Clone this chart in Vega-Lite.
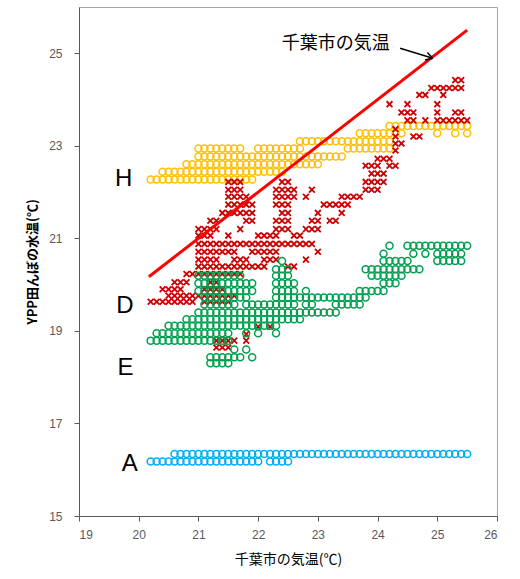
{
"$schema":"https://vega.github.io/schema/vega-lite/v6.json",
"width":418,"height":509,
"autosize":{"type":"none"},
"padding":{"left":79,"top":7,"right":23,"bottom":63},
"config":{"view":{"stroke":"#a6a6a6","strokeWidth":1},"axis":{"grid":false,"labelFont":"Liberation Sans","labelFontSize":12,"labelColor":"#595959","domainColor":"#595959","tickColor":"#595959","titleFont":"Noto Sans CJK JP","titleColor":"#000000"}},
"encoding":{
"x":{"field":"x","type":"quantitative","scale":{"domain":[19,26],"nice":false,"zero":false},"axis":{"values":[19,20,21,22,23,24,25,26],"format":"d","title":"千葉市の気温(℃)","titleFontSize":14,"titleFontWeight":"normal","labelPadding":8,"tickSize":5,"titlePadding":12}},
"y":{"field":"y","type":"quantitative","scale":{"domain":[15,26],"nice":false,"zero":false},"axis":{"values":[15,17,19,21,23,25],"format":"d","title":"YPP田んぼの水温(℃)","titleFontSize":13,"titleFontWeight":"bold","labelPadding":12,"tickSize":5,"titlePadding":9}}
},
"datasets":{
"A":[
{"x":20.6,"y":16.34},{"x":20.7,"y":16.34},{"x":20.8,"y":16.34},{"x":20.9,"y":16.34},{"x":21,"y":16.34},{"x":21.1,"y":16.34},{"x":21.2,"y":16.34},{"x":21.3,"y":16.34},{"x":21.4,"y":16.34},{"x":21.5,"y":16.34},{"x":21.6,"y":16.34},{"x":21.7,"y":16.34},{"x":21.8,"y":16.34},{"x":21.9,"y":16.34},{"x":22,"y":16.34},{"x":22.1,"y":16.34},{"x":22.2,"y":16.34},{"x":22.3,"y":16.34},{"x":22.4,"y":16.34},{"x":22.5,"y":16.34},{"x":22.6,"y":16.34},{"x":22.7,"y":16.34},{"x":22.8,"y":16.34},{"x":22.9,"y":16.34},{"x":23,"y":16.34},{"x":23.1,"y":16.34},{"x":23.2,"y":16.34},{"x":23.3,"y":16.34},{"x":23.4,"y":16.34},{"x":23.5,"y":16.34},{"x":23.6,"y":16.34},{"x":23.7,"y":16.34},{"x":23.8,"y":16.34},{"x":23.9,"y":16.34},{"x":24,"y":16.34},{"x":24.1,"y":16.34},{"x":24.2,"y":16.34},{"x":24.3,"y":16.34},{"x":24.4,"y":16.34},{"x":24.5,"y":16.34},{"x":24.6,"y":16.34},{"x":24.7,"y":16.34},{"x":24.8,"y":16.34},{"x":24.9,"y":16.34},{"x":25,"y":16.34},{"x":25.1,"y":16.34},{"x":25.2,"y":16.34},{"x":25.3,"y":16.34},{"x":25.4,"y":16.34},{"x":25.5,"y":16.34},
{"x":20.2,"y":16.18},{"x":20.3,"y":16.18},{"x":20.4,"y":16.18},{"x":20.5,"y":16.18},{"x":20.6,"y":16.18},{"x":20.7,"y":16.18},{"x":20.8,"y":16.18},{"x":20.9,"y":16.18},{"x":21,"y":16.18},{"x":21.1,"y":16.18},{"x":21.2,"y":16.18},{"x":21.3,"y":16.18},{"x":21.4,"y":16.18},{"x":21.5,"y":16.18},{"x":21.6,"y":16.18},{"x":21.7,"y":16.18},{"x":21.8,"y":16.18},{"x":21.9,"y":16.18},{"x":22,"y":16.18},{"x":22.2,"y":16.18},{"x":22.3,"y":16.18},{"x":22.4,"y":16.18},{"x":22.5,"y":16.18}
],
"H":[
{"x":20.2,"y":22.27},{"x":20.3,"y":22.27},{"x":20.4,"y":22.27},{"x":20.5,"y":22.27},{"x":20.6,"y":22.27},{"x":20.7,"y":22.27},{"x":20.8,"y":22.27},{"x":20.9,"y":22.27},{"x":21,"y":22.27},{"x":21.1,"y":22.27},{"x":21.2,"y":22.27},{"x":21.3,"y":22.27},{"x":21.4,"y":22.27},{"x":21.5,"y":22.27},{"x":21.6,"y":22.27},{"x":21.7,"y":22.27},{"x":21.8,"y":22.27},{"x":21.9,"y":22.27},
{"x":20.4,"y":22.44},{"x":20.5,"y":22.44},{"x":20.6,"y":22.44},{"x":20.7,"y":22.44},{"x":20.8,"y":22.44},{"x":20.9,"y":22.44},{"x":21,"y":22.44},{"x":21.1,"y":22.44},{"x":21.2,"y":22.44},{"x":21.3,"y":22.44},{"x":21.4,"y":22.44},{"x":21.5,"y":22.44},{"x":21.6,"y":22.44},{"x":21.7,"y":22.44},{"x":21.8,"y":22.44},{"x":21.9,"y":22.44},{"x":22,"y":22.44},{"x":22.1,"y":22.44},{"x":22.2,"y":22.44},{"x":22.3,"y":22.44},{"x":22.4,"y":22.44},
{"x":20.8,"y":22.6},{"x":20.9,"y":22.6},{"x":21,"y":22.6},{"x":21.1,"y":22.6},{"x":21.2,"y":22.6},{"x":21.3,"y":22.6},{"x":21.4,"y":22.6},{"x":21.5,"y":22.6},{"x":21.6,"y":22.6},{"x":21.7,"y":22.6},{"x":21.8,"y":22.6},{"x":21.9,"y":22.6},{"x":22,"y":22.6},{"x":22.1,"y":22.6},{"x":22.2,"y":22.6},{"x":22.3,"y":22.6},{"x":22.4,"y":22.6},{"x":22.5,"y":22.6},{"x":22.6,"y":22.6},{"x":22.7,"y":22.6},{"x":22.8,"y":22.6},{"x":22.9,"y":22.6},{"x":23,"y":22.6},
{"x":21,"y":22.77},{"x":21.1,"y":22.77},{"x":21.2,"y":22.77},{"x":21.3,"y":22.77},{"x":21.4,"y":22.77},{"x":21.5,"y":22.77},{"x":21.6,"y":22.77},{"x":21.7,"y":22.77},{"x":21.8,"y":22.77},{"x":21.9,"y":22.77},{"x":22,"y":22.77},{"x":22.1,"y":22.77},{"x":22.2,"y":22.77},{"x":22.3,"y":22.77},{"x":22.4,"y":22.77},{"x":22.5,"y":22.77},{"x":22.6,"y":22.77},{"x":22.7,"y":22.77},{"x":22.8,"y":22.77},{"x":22.9,"y":22.77},{"x":23,"y":22.77},{"x":23.1,"y":22.77},{"x":23.2,"y":22.77},{"x":23.3,"y":22.77},{"x":23.4,"y":22.77},
{"x":21,"y":22.94},{"x":21.1,"y":22.94},{"x":21.2,"y":22.94},{"x":21.3,"y":22.94},{"x":21.4,"y":22.94},{"x":21.5,"y":22.94},{"x":21.6,"y":22.94},{"x":21.7,"y":22.94},{"x":22,"y":22.94},{"x":22.1,"y":22.94},{"x":22.2,"y":22.94},{"x":22.3,"y":22.94},{"x":22.4,"y":22.94},{"x":22.5,"y":22.94},{"x":22.6,"y":22.94},{"x":22.7,"y":22.94},{"x":23.5,"y":22.94},{"x":23.6,"y":22.94},{"x":23.7,"y":22.94},{"x":23.8,"y":22.94},{"x":23.9,"y":22.94},{"x":24,"y":22.94},{"x":24.1,"y":22.94},{"x":24.2,"y":22.94},
{"x":22.7,"y":23.1},{"x":22.8,"y":23.1},{"x":22.9,"y":23.1},{"x":23,"y":23.1},{"x":23.1,"y":23.1},{"x":23.2,"y":23.1},{"x":23.3,"y":23.1},{"x":23.4,"y":23.1},{"x":23.5,"y":23.1},{"x":23.6,"y":23.1},{"x":23.7,"y":23.1},{"x":23.8,"y":23.1},{"x":23.9,"y":23.1},{"x":24,"y":23.1},{"x":24.1,"y":23.1},{"x":24.2,"y":23.1},
{"x":23.7,"y":23.27},{"x":23.8,"y":23.27},{"x":23.9,"y":23.27},{"x":24,"y":23.27},{"x":24.1,"y":23.27},{"x":24.2,"y":23.27},{"x":24.3,"y":23.27},{"x":24.4,"y":23.27},{"x":25,"y":23.27},{"x":25.3,"y":23.27},{"x":25.5,"y":23.27},
{"x":24.2,"y":23.43},{"x":24.3,"y":23.43},{"x":24.4,"y":23.43},{"x":24.5,"y":23.43},{"x":24.6,"y":23.43},{"x":24.7,"y":23.43},{"x":24.8,"y":23.43},{"x":24.9,"y":23.43},{"x":25,"y":23.43},{"x":25.1,"y":23.43},{"x":25.2,"y":23.43},{"x":25.3,"y":23.43},{"x":25.4,"y":23.43},{"x":25.5,"y":23.43}
],
"D":[
{"x":21.3,"y":18.64},{"x":21.4,"y":18.64},{"x":21.5,"y":18.64},
{"x":21.3,"y":18.79},{"x":21.4,"y":18.79},{"x":21.5,"y":18.79},{"x":21.6,"y":18.79},{"x":21.8,"y":18.79},
{"x":21.8,"y":18.93},{"x":22,"y":19.09},{"x":22.2,"y":19.09},
{"x":20.2,"y":19.63},{"x":20.3,"y":19.63},{"x":20.4,"y":19.63},{"x":20.5,"y":19.63},{"x":20.6,"y":19.63},{"x":20.7,"y":19.63},{"x":20.8,"y":19.63},{"x":20.9,"y":19.63},{"x":21.1,"y":19.63},{"x":21.2,"y":19.63},{"x":21.3,"y":19.63},{"x":21.4,"y":19.63},{"x":21.5,"y":19.63},
{"x":20.5,"y":19.76},{"x":20.6,"y":19.76},{"x":20.7,"y":19.76},{"x":20.8,"y":19.76},{"x":20.9,"y":19.76},{"x":21,"y":19.76},{"x":21.1,"y":19.76},{"x":21.2,"y":19.76},{"x":21.3,"y":19.76},{"x":21.4,"y":19.76},{"x":21.5,"y":19.76},{"x":21.6,"y":19.76},
{"x":20.4,"y":19.9},{"x":20.5,"y":19.9},{"x":20.6,"y":19.9},{"x":20.7,"y":19.9},{"x":21.1,"y":19.9},{"x":21.2,"y":19.9},{"x":21.3,"y":19.9},{"x":21.4,"y":19.9},
{"x":20.6,"y":20.05},{"x":20.7,"y":20.05},{"x":20.8,"y":20.05},{"x":21.2,"y":20.05},{"x":21.3,"y":20.05},
{"x":20.8,"y":20.23},{"x":20.9,"y":20.23},{"x":21,"y":20.23},{"x":21.1,"y":20.23},{"x":21.2,"y":20.23},{"x":21.3,"y":20.23},{"x":21.4,"y":20.23},{"x":21.5,"y":20.23},{"x":21.6,"y":20.23},{"x":21.7,"y":20.23},
{"x":21,"y":20.39},{"x":21.1,"y":20.39},{"x":21.2,"y":20.39},{"x":21.3,"y":20.39},{"x":21.4,"y":20.39},{"x":21.5,"y":20.39},{"x":21.6,"y":20.39},{"x":21.7,"y":20.39},{"x":21.8,"y":20.39},{"x":21.9,"y":20.39},{"x":22,"y":20.39},{"x":22.1,"y":20.39},{"x":22.5,"y":20.39},{"x":22.6,"y":20.39},
{"x":21,"y":20.54},{"x":21.1,"y":20.54},{"x":21.2,"y":20.54},{"x":21.3,"y":20.54},{"x":21.6,"y":20.54},{"x":21.7,"y":20.54},{"x":21.8,"y":20.54},{"x":22.1,"y":20.54},{"x":22.2,"y":20.54},{"x":22.3,"y":20.54},{"x":22.8,"y":20.54},
{"x":21,"y":20.71},{"x":21.1,"y":20.71},{"x":21.2,"y":20.71},{"x":21.3,"y":20.71},{"x":21.4,"y":20.71},{"x":21.5,"y":20.71},{"x":21.6,"y":20.71},{"x":21.9,"y":20.71},{"x":22,"y":20.71},{"x":22.1,"y":20.71},{"x":22.2,"y":20.71},{"x":22.3,"y":20.71},{"x":23,"y":20.71},
{"x":21,"y":20.88},{"x":21.1,"y":20.88},{"x":21.2,"y":20.88},{"x":21.3,"y":20.88},{"x":21.4,"y":20.88},{"x":21.5,"y":20.88},{"x":21.6,"y":20.88},{"x":21.7,"y":20.88},{"x":21.8,"y":20.88},{"x":21.9,"y":20.88},{"x":22,"y":20.88},{"x":22.1,"y":20.88},{"x":22.2,"y":20.88},{"x":22.3,"y":20.88},{"x":22.4,"y":20.88},{"x":22.5,"y":20.88},{"x":22.6,"y":20.88},{"x":22.7,"y":20.88},{"x":22.8,"y":20.88},{"x":22.9,"y":20.88},
{"x":21,"y":21.06},{"x":21.1,"y":21.06},{"x":21.2,"y":21.06},{"x":21.5,"y":21.06},{"x":22,"y":21.06},{"x":22.1,"y":21.06},{"x":22.2,"y":21.06},{"x":22.3,"y":21.06},{"x":22.6,"y":21.06},{"x":22.7,"y":21.06},
{"x":21,"y":21.2},{"x":21.1,"y":21.2},{"x":21.2,"y":21.2},{"x":21.3,"y":21.2},{"x":21.7,"y":21.2},{"x":22.3,"y":21.2},{"x":22.4,"y":21.2},{"x":22.5,"y":21.2},{"x":22.8,"y":21.2},{"x":22.9,"y":21.2},{"x":23,"y":21.2},
{"x":21.2,"y":21.38},{"x":21.3,"y":21.38},{"x":21.8,"y":21.38},{"x":21.9,"y":21.38},{"x":22.3,"y":21.38},{"x":22.4,"y":21.38},{"x":22.5,"y":21.38},{"x":22.9,"y":21.38},{"x":23,"y":21.38},{"x":23.2,"y":21.38},{"x":23.3,"y":21.38},
{"x":21.4,"y":21.55},{"x":21.5,"y":21.55},{"x":21.6,"y":21.55},{"x":21.7,"y":21.55},{"x":21.8,"y":21.55},{"x":21.9,"y":21.55},{"x":22.4,"y":21.55},{"x":22.5,"y":21.55},{"x":23,"y":21.55},{"x":23.4,"y":21.55},
{"x":21.5,"y":21.73},{"x":21.6,"y":21.73},{"x":21.7,"y":21.73},{"x":21.8,"y":21.73},{"x":21.9,"y":21.73},{"x":22.3,"y":21.73},{"x":22.4,"y":21.73},{"x":22.5,"y":21.73},{"x":23.1,"y":21.73},{"x":23.2,"y":21.73},{"x":23.3,"y":21.73},{"x":23.4,"y":21.73},{"x":23.5,"y":21.73},
{"x":21.5,"y":21.9},{"x":21.6,"y":21.9},{"x":21.7,"y":21.9},{"x":21.8,"y":21.9},{"x":22.3,"y":21.9},{"x":22.4,"y":21.9},{"x":22.5,"y":21.9},{"x":22.6,"y":21.9},{"x":22.8,"y":21.9},{"x":23.4,"y":21.9},{"x":23.5,"y":21.9},{"x":23.6,"y":21.9},{"x":23.7,"y":21.9},
{"x":21.5,"y":22.05},{"x":21.6,"y":22.05},{"x":21.7,"y":22.05},{"x":22.3,"y":22.05},{"x":22.4,"y":22.05},{"x":22.5,"y":22.05},{"x":22.6,"y":22.05},{"x":22.9,"y":22.05},{"x":23.8,"y":22.05},{"x":23.9,"y":22.05},{"x":24,"y":22.05},
{"x":21.5,"y":22.22},{"x":21.6,"y":22.22},{"x":21.7,"y":22.22},{"x":22.4,"y":22.22},{"x":22.5,"y":22.22},{"x":23.8,"y":22.22},{"x":23.9,"y":22.22},{"x":24,"y":22.22},{"x":24.1,"y":22.22},
{"x":23.9,"y":22.4},{"x":24,"y":22.4},{"x":24.1,"y":22.4},
{"x":23.8,"y":22.57},{"x":23.9,"y":22.57},{"x":24,"y":22.57},{"x":24.2,"y":22.57},{"x":24.3,"y":22.57},
{"x":24,"y":22.72},{"x":24.1,"y":22.72},{"x":24.2,"y":22.72},
{"x":24.3,"y":22.9},{"x":24.3,"y":23.05},{"x":24.4,"y":23.05},
{"x":24.3,"y":23.2},{"x":24.6,"y":23.2},{"x":24.7,"y":23.2},{"x":24.3,"y":23.36},
{"x":24.5,"y":23.55},{"x":24.6,"y":23.55},{"x":24.8,"y":23.55},{"x":25,"y":23.55},{"x":25.1,"y":23.55},{"x":25.2,"y":23.55},{"x":25.3,"y":23.55},{"x":25.4,"y":23.55},{"x":25.5,"y":23.55},
{"x":24.4,"y":23.72},{"x":24.5,"y":23.72},{"x":24.6,"y":23.72},{"x":25,"y":23.72},{"x":25.3,"y":23.72},{"x":25.4,"y":23.72},
{"x":24.2,"y":23.9},{"x":24.5,"y":23.9},{"x":25,"y":23.9},
{"x":24.7,"y":24.1},{"x":24.8,"y":24.1},{"x":25.1,"y":24.1},
{"x":24.9,"y":24.25},{"x":25,"y":24.25},{"x":25.1,"y":24.25},{"x":25.2,"y":24.25},{"x":25.3,"y":24.25},{"x":25.4,"y":24.25},
{"x":25.3,"y":24.42},{"x":25.4,"y":24.42}
],
"E":[
{"x":21.2,"y":18.3},{"x":21.3,"y":18.3},{"x":21.4,"y":18.3},{"x":21.5,"y":18.3},
{"x":21.2,"y":18.43},{"x":21.3,"y":18.43},{"x":21.4,"y":18.43},{"x":21.5,"y":18.43},{"x":21.6,"y":18.43},{"x":21.7,"y":18.43},{"x":21.9,"y":18.43},
{"x":21.6,"y":18.6},{"x":21.8,"y":18.6},
{"x":20.2,"y":18.79},{"x":20.3,"y":18.79},{"x":20.4,"y":18.79},{"x":20.5,"y":18.79},{"x":20.6,"y":18.79},{"x":20.7,"y":18.79},{"x":20.8,"y":18.79},{"x":20.9,"y":18.79},{"x":21,"y":18.79},{"x":21.1,"y":18.79},{"x":21.2,"y":18.79},{"x":21.3,"y":18.79},{"x":21.4,"y":18.79},{"x":21.5,"y":18.79},
{"x":20.3,"y":18.95},{"x":20.4,"y":18.95},{"x":20.5,"y":18.95},{"x":20.6,"y":18.95},{"x":20.7,"y":18.95},{"x":20.8,"y":18.95},{"x":20.9,"y":18.95},{"x":21,"y":18.95},{"x":21.1,"y":18.95},{"x":21.2,"y":18.95},{"x":21.3,"y":18.95},{"x":21.4,"y":18.95},{"x":21.5,"y":18.95},{"x":21.8,"y":18.95},{"x":22,"y":18.95},{"x":22.3,"y":18.95},
{"x":20.5,"y":19.11},{"x":20.6,"y":19.11},{"x":20.7,"y":19.11},{"x":20.8,"y":19.11},{"x":20.9,"y":19.11},{"x":21,"y":19.11},{"x":21.1,"y":19.11},{"x":21.2,"y":19.11},{"x":21.3,"y":19.11},{"x":21.4,"y":19.11},{"x":21.5,"y":19.11},{"x":21.6,"y":19.11},{"x":21.7,"y":19.11},{"x":21.8,"y":19.11},{"x":21.9,"y":19.11},{"x":22,"y":19.11},{"x":22.1,"y":19.11},{"x":22.2,"y":19.11},{"x":22.3,"y":19.11},
{"x":20.8,"y":19.25},{"x":20.9,"y":19.25},{"x":21,"y":19.25},{"x":21.1,"y":19.25},{"x":21.2,"y":19.25},{"x":21.3,"y":19.25},{"x":21.4,"y":19.25},{"x":21.5,"y":19.25},{"x":21.6,"y":19.25},{"x":21.7,"y":19.25},{"x":21.8,"y":19.25},{"x":21.9,"y":19.25},{"x":22,"y":19.25},{"x":22.1,"y":19.25},{"x":22.2,"y":19.25},{"x":22.3,"y":19.25},{"x":22.4,"y":19.25},{"x":22.5,"y":19.25},{"x":22.6,"y":19.25},{"x":22.7,"y":19.25},
{"x":21,"y":19.4},{"x":21.1,"y":19.4},{"x":21.2,"y":19.4},{"x":21.3,"y":19.4},{"x":21.4,"y":19.4},{"x":21.5,"y":19.4},{"x":21.6,"y":19.4},{"x":21.7,"y":19.4},{"x":21.8,"y":19.4},{"x":21.9,"y":19.4},{"x":22,"y":19.4},{"x":22.1,"y":19.4},{"x":22.2,"y":19.4},{"x":22.3,"y":19.4},{"x":22.4,"y":19.4},{"x":22.5,"y":19.4},{"x":22.6,"y":19.4},{"x":22.7,"y":19.4},{"x":22.8,"y":19.4},{"x":22.9,"y":19.4},{"x":23,"y":19.4},{"x":23.1,"y":19.4},{"x":23.2,"y":19.4},{"x":23.3,"y":19.4},
{"x":21.1,"y":19.57},{"x":21.2,"y":19.57},{"x":21.3,"y":19.57},{"x":21.4,"y":19.57},{"x":21.5,"y":19.57},{"x":21.6,"y":19.57},{"x":21.8,"y":19.57},{"x":21.9,"y":19.57},{"x":22,"y":19.57},{"x":22.1,"y":19.57},{"x":22.2,"y":19.57},{"x":22.3,"y":19.57},{"x":22.4,"y":19.57},{"x":22.5,"y":19.57},{"x":22.6,"y":19.57},{"x":22.8,"y":19.57},{"x":22.9,"y":19.57},{"x":23.3,"y":19.57},{"x":23.4,"y":19.57},{"x":23.5,"y":19.57},{"x":23.6,"y":19.57},{"x":23.7,"y":19.57},
{"x":21.1,"y":19.72},{"x":21.2,"y":19.72},{"x":21.3,"y":19.72},{"x":21.4,"y":19.72},{"x":21.5,"y":19.72},{"x":21.6,"y":19.72},{"x":21.7,"y":19.72},{"x":21.8,"y":19.72},{"x":22.3,"y":19.72},{"x":22.4,"y":19.72},{"x":22.5,"y":19.72},{"x":22.6,"y":19.72},{"x":22.7,"y":19.72},{"x":22.8,"y":19.72},{"x":22.9,"y":19.72},{"x":23,"y":19.72},{"x":23.1,"y":19.72},{"x":23.2,"y":19.72},{"x":23.3,"y":19.72},{"x":23.4,"y":19.72},{"x":23.5,"y":19.72},{"x":23.6,"y":19.72},{"x":23.7,"y":19.72},{"x":23.8,"y":19.72},
{"x":21,"y":19.86},{"x":21.1,"y":19.86},{"x":21.2,"y":19.86},{"x":21.3,"y":19.86},{"x":21.4,"y":19.86},{"x":21.5,"y":19.86},{"x":21.6,"y":19.86},{"x":21.7,"y":19.86},{"x":21.8,"y":19.86},{"x":21.9,"y":19.86},{"x":22.3,"y":19.86},{"x":22.4,"y":19.86},{"x":22.5,"y":19.86},{"x":22.6,"y":19.86},{"x":22.8,"y":19.86},{"x":23.7,"y":19.86},{"x":23.8,"y":19.86},{"x":23.9,"y":19.86},{"x":24,"y":19.86},{"x":24.1,"y":19.86},
{"x":21,"y":20.03},{"x":21.1,"y":20.03},{"x":21.2,"y":20.03},{"x":21.3,"y":20.03},{"x":21.4,"y":20.03},{"x":21.5,"y":20.03},{"x":21.6,"y":20.03},{"x":21.7,"y":20.03},{"x":21.8,"y":20.03},{"x":21.9,"y":20.03},{"x":22.3,"y":20.03},{"x":22.4,"y":20.03},{"x":22.5,"y":20.03},{"x":22.6,"y":20.03},{"x":24.1,"y":20.03},{"x":24.2,"y":20.03},{"x":24.3,"y":20.03},
{"x":21,"y":20.19},{"x":21.1,"y":20.19},{"x":21.2,"y":20.19},{"x":21.3,"y":20.19},{"x":21.4,"y":20.19},{"x":21.5,"y":20.19},{"x":21.6,"y":20.19},{"x":21.7,"y":20.19},{"x":22.3,"y":20.19},{"x":22.4,"y":20.19},{"x":22.5,"y":20.19},{"x":23.9,"y":20.19},{"x":24,"y":20.19},{"x":24.1,"y":20.19},{"x":24.2,"y":20.19},{"x":24.3,"y":20.19},{"x":24.4,"y":20.19},
{"x":22.3,"y":20.33},{"x":22.4,"y":20.33},{"x":22.5,"y":20.33},{"x":23.8,"y":20.33},{"x":23.9,"y":20.33},{"x":24,"y":20.33},{"x":24.1,"y":20.33},{"x":24.2,"y":20.33},{"x":24.3,"y":20.33},{"x":24.4,"y":20.33},{"x":24.5,"y":20.33},{"x":24.6,"y":20.33},{"x":24.7,"y":20.33},
{"x":22.4,"y":20.51},{"x":24.1,"y":20.51},{"x":24.2,"y":20.51},{"x":24.3,"y":20.51},{"x":24.4,"y":20.51},{"x":24.5,"y":20.51},{"x":25,"y":20.51},{"x":25.1,"y":20.51},{"x":25.2,"y":20.51},{"x":25.3,"y":20.51},{"x":25.4,"y":20.51},
{"x":24.1,"y":20.67},{"x":24.6,"y":20.67},{"x":24.8,"y":20.67},{"x":25,"y":20.67},{"x":25.1,"y":20.67},{"x":25.2,"y":20.67},{"x":25.3,"y":20.67},{"x":25.4,"y":20.67},
{"x":24.2,"y":20.84},{"x":24.5,"y":20.84},{"x":24.6,"y":20.84},{"x":24.7,"y":20.84},{"x":24.8,"y":20.84},{"x":24.9,"y":20.84},{"x":25,"y":20.84},{"x":25.1,"y":20.84},{"x":25.2,"y":20.84},{"x":25.3,"y":20.84},{"x":25.4,"y":20.84},{"x":25.5,"y":20.84}
],
"line":[{"x":20.17,"y":20.17},{"x":25.5,"y":25.5}],
"arrow":[{"x":24.377,"y":25.108,"x2":24.925,"y2":24.892},{"x":24.833,"y":25.017,"x2":24.925,"y2":24.892},{"x":24.794,"y":24.853,"x2":24.925,"y2":24.892}],
"note":[{"x":23.3,"y":25.2,"t":"千葉市の気温"}],
"labels":[{"x":19.75,"y":22.29,"t":"H"},{"x":19.77,"y":19.54,"t":"D"},{"x":19.78,"y":18.2,"t":"E"},{"x":19.85,"y":16.13,"t":"A"}]
},
"layer":[
{"data":{"name":"A"},"mark":{"type":"point","shape":"circle","filled":false,"color":"#00B0F0","size":49,"strokeWidth":1.5,"opacity":1}},
{"data":{"name":"H"},"mark":{"type":"point","shape":"circle","filled":false,"color":"#FFC000","size":49,"strokeWidth":1.5,"opacity":1}},
{"data":{"name":"D"},"mark":{"type":"point","shape":"M-1,-1L1,1M-1,1L1,-1","filled":false,"color":"#CC0000","size":34,"strokeWidth":1.8,"opacity":1}},
{"data":{"name":"E"},"mark":{"type":"point","shape":"circle","filled":false,"color":"#00A050","size":49,"strokeWidth":1.5,"opacity":1}},
{"data":{"name":"line"},"mark":{"type":"line","color":"#FF0000","strokeWidth":3},"encoding":{}},
{"data":{"name":"arrow"},"mark":{"type":"rule","color":"#000000","strokeWidth":1.5},"encoding":{"x2":{"field":"x2"},"y2":{"field":"y2"}}},
{"data":{"name":"note"},"mark":{"type":"text","font":"Noto Sans CJK JP","fontSize":18,"color":"#000000","align":"center","baseline":"middle"},"encoding":{"text":{"field":"t"}}},
{"data":{"name":"labels"},"mark":{"type":"text","font":"Liberation Sans","fontSize":24,"color":"#000000","align":"center","baseline":"middle"},"encoding":{"text":{"field":"t"}}}
]
}
